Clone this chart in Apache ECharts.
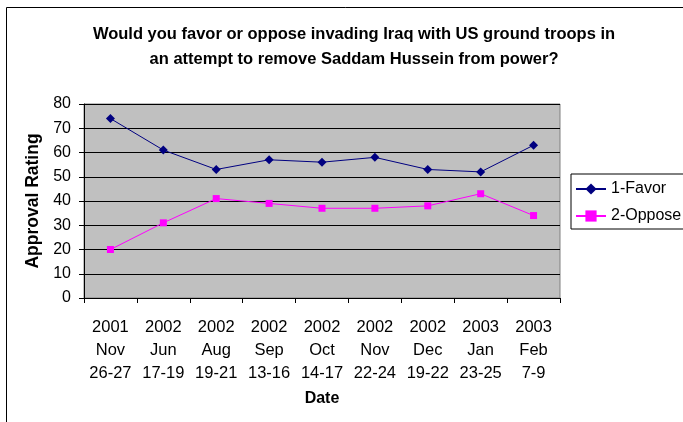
<!DOCTYPE html>
<html><head><meta charset="utf-8">
<script src="https://cdn.jsdelivr.net/npm/echarts@6/dist/echarts.min.js"></script>
<style>html,body{margin:0;padding:0;background:#fff}#c{width:683px;height:422px}</style>
</head><body><div id="c"></div>
<script>
const categories = ["2001\nNov\n26-27","2002\nJun\n17-19","2002\nAug\n19-21","2002\nSep\n13-16","2002\nOct\n14-17","2002\nNov\n22-24","2002\nDec\n19-22","2003\nJan\n23-25","2003\nFeb\n7-9"];
const favor = [74, 61, 53, 57, 56, 58, 53, 52, 63];
const oppose = [20, 31, 41, 39, 37, 37, 38, 43, 34];
const titleText = "Would you favor or oppose invading Iraq with US ground troops in\nan attempt to remove Saddam Hussein from power?";
const FONT = "'Liberation Sans', Arial, sans-serif";
const chart = echarts.init(document.getElementById('c'), null, {renderer: 'canvas'});
chart.setOption({
  animation: false,
  backgroundColor: '#fff',
  graphic: [{type: 'rect', shape: {x: 6.5, y: 7.5, width: 700, height: 430}, style: {fill: 'none', stroke: '#000', lineWidth: 1}, z: -1}],
  title: {text: titleText, left: 349, top: 17, textAlign: 'center',
    textStyle: {fontFamily: FONT, fontSize: 16.5, fontWeight: 'bold', color: '#000', lineHeight: 25}},
  legend: {orient: 'vertical', left: 571, top: 174, padding: [7, 40, 5, 4], itemGap: 11, itemWidth: 30, itemHeight: 14,
    borderColor: '#000', borderWidth: 1, backgroundColor: '#fff',
    textStyle: {fontFamily: FONT, fontSize: 16, color: '#000'}, data: ['1-Favor', '2-Oppose']},
  grid: {left: 84, right: 123, top: 104, bottom: 124, show: true, backgroundColor: '#C0C0C0', borderColor: '#808080', borderWidth: 1},
  xAxis: {type: 'category', data: categories, boundaryGap: true,
    name: 'Date', nameLocation: 'middle', nameGap: 93,
    nameTextStyle: {fontFamily: FONT, fontSize: 16, fontWeight: 'bold', color: '#000'},
    axisLine: {lineStyle: {color: '#000'}}, axisTick: {show: true, interval: 0, length: 5, lineStyle: {color: '#000'}},
    axisLabel: {interval: 0, fontFamily: FONT, fontSize: 16.5, color: '#000', lineHeight: 23, margin: 18}},
  yAxis: {type: 'value', min: 0, max: 80, interval: 10,
    name: 'Approval Rating', nameLocation: 'middle', nameGap: 40, nameRotate: 90,
    nameTextStyle: {fontFamily: FONT, fontSize: 17.5, fontWeight: 'bold', color: '#000'},
    axisLine: {show: true, lineStyle: {color: '#000'}}, axisTick: {show: true, length: 5, lineStyle: {color: '#000'}},
    splitLine: {show: true, lineStyle: {color: '#000', width: 1}},
    axisLabel: {fontFamily: FONT, fontSize: 16, color: '#000', margin: 13}},
  series: [
    {name: '1-Favor', type: 'line', data: favor, color: '#000080', symbol: 'diamond', symbolSize: 9,
      lineStyle: {width: 1, color: '#000080'}, itemStyle: {color: '#000080'}},
    {name: '2-Oppose', type: 'line', data: oppose, color: '#FF00FF', symbol: 'rect', symbolSize: 7,
      lineStyle: {width: 1, color: '#FF00FF'}, itemStyle: {color: '#FF00FF'}}
  ]
});
</script></body></html>
